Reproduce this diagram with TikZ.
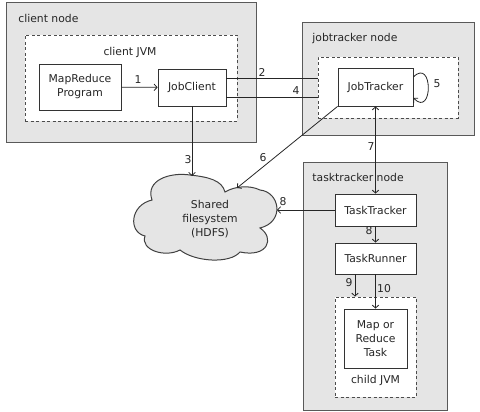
\documentclass[tikz,border=0pt]{standalone}
\usepackage{fontspec}
\setmainfont{DejaVu Sans}
\usetikzlibrary{arrows.meta,calc}
\begin{document}
\begin{tikzpicture}[x=1pt,y=-1pt,
  font=\fontsize{10.8}{14}\selectfont,
  text=black!85,
  line width=0.8pt,
  nodebox/.style={draw=black!65, fill=black!10, line width=1pt, inner sep=0pt},
  jvmbox/.style={draw=black!70, fill=white, dash pattern=on 3pt off 2.5pt, inner sep=0pt},
  comp/.style={draw=black!80, fill=white, align=center, inner sep=0pt},
  conn/.style={draw=black!85},
  arr/.style={conn, -{Straight Barb[length=3pt,width=6.5pt]}},
  lbl/.style={inner sep=0pt}
]
\useasboundingbox (0,0) rectangle (480,412);

% containers
\node[nodebox, minimum width=250pt, minimum height=140pt] (cn) at (131,73) {};
\node[jvmbox, minimum width=212pt, minimum height=86pt] (cjv) at (131,78) {};
\node[nodebox, minimum width=172pt, minimum height=113pt] (jn) at (388,79.5) {};
\node[jvmbox, minimum width=140pt, minimum height=61pt] (jtjvm) at (388,87.5) {};
\node[nodebox, minimum width=144pt, minimum height=248pt] (tn) at (375,286.5) {};
\node[jvmbox, minimum width=81pt, minimum height=100pt] (cjvm) at (375.5,347) {};

\node[lbl, anchor=west] (cnl) at (18,18) {client node};
\node[lbl] (cjvl) at (130,52) {client JVM};
\node[lbl, anchor=west] (jnl) at (312,39) {jobtracker node};
\node[lbl, anchor=west] (tnl) at (312,177) {tasktracker node};
\node[lbl] (cjvml) at (375.5,380) {child JVM};

% components
\node[comp, minimum width=82pt, minimum height=46pt] (mr) at (80,87) {MapReduce\\Program};
\node[comp, minimum width=68pt, minimum height=37pt] (jc) at (192,87.5) {JobClient};
\node[comp, minimum width=75pt, minimum height=38pt] (jt) at (375.5,87) {JobTracker};
\node[comp, minimum width=81pt, minimum height=32pt] (tt) at (375.5,210) {TaskTracker};
\node[comp, minimum width=81pt, minimum height=31pt] (tr) at (375.5,258.5) {TaskRunner};
\node[comp, minimum width=63pt, minimum height=59pt] (mrt) at (375.5,338.5) {Map or\\Reduce\\Task};

% cloud
\draw[fill=black!10, draw=black!75, line width=1pt]
  (152,200) .. controls (145,180) and (170,172) .. (190,175)
  .. controls (208,177) and (222,180) .. (225,192)
  .. controls (235,186) and (250,185) .. (260,190)
  .. controls (280,192) and (285,222) .. (260,228)
  .. controls (275,238) and (268,258) .. (240,252)
  .. controls (230,264) and (195,262) .. (180,250)
  .. controls (165,258) and (140,250) .. (145,236)
  .. controls (128,232) and (130,205) .. (152,200) -- cycle;
\node[lbl, align=center] (hdfs) at (210,219) {Shared\\filesystem\\(HDFS)};
\coordinate (c3) at (192,176);
\coordinate (c6) at (237,188);
\coordinate (c8) at (277,210);
\coordinate (x9) at (355,0);

% connectors
\draw[arr] (mr) -- (jc);
\draw[conn] ([yshift=9.5pt]jc.east) -- ([yshift=9.5pt]jc.east -| jtjvm.west);
\draw[conn] ([yshift=-9.5pt]jc.east) -- ([yshift=-9.5pt]jc.east -| jtjvm.west);
\draw[arr] (jc.south) -- (c3);
\draw[arr] (jt.south west) -- (c6);
\draw[arr] ([yshift=10pt]jt.east) to[out=45,in=-45,distance=28pt] ([yshift=-11pt]jt.east);
\draw[conn, {Straight Barb[length=3pt,width=6.5pt]}-{Straight Barb[length=3pt,width=6.5pt]}] (jt.south) -- (tt.north);
\draw[arr] (tt.west) -- (c8);
\draw[arr] (tt) -- (tr);
\draw[arr] (tr.south -| x9) -- (cjvm.north -| x9);
\draw[arr] (tr) -- (mrt);

% labels
\node[lbl] (l1) at (138,80) {1};
\node[lbl] (l2) at (262,72) {2};
\node[lbl] (l4) at (296,91) {4};
\node[lbl] (l3) at (188,160) {3};
\node[lbl] (l6) at (263,158) {6};
\node[lbl] (l5) at (437,84) {5};
\node[lbl] (l7) at (371,147) {7};
\node[lbl] (l8a) at (283,202) {8};
\node[lbl] (l8b) at (369,231) {8};
\node[lbl] (l9) at (349,283) {9};
\node[lbl] (l10) at (384,289) {10};
\end{tikzpicture}
\end{document}
